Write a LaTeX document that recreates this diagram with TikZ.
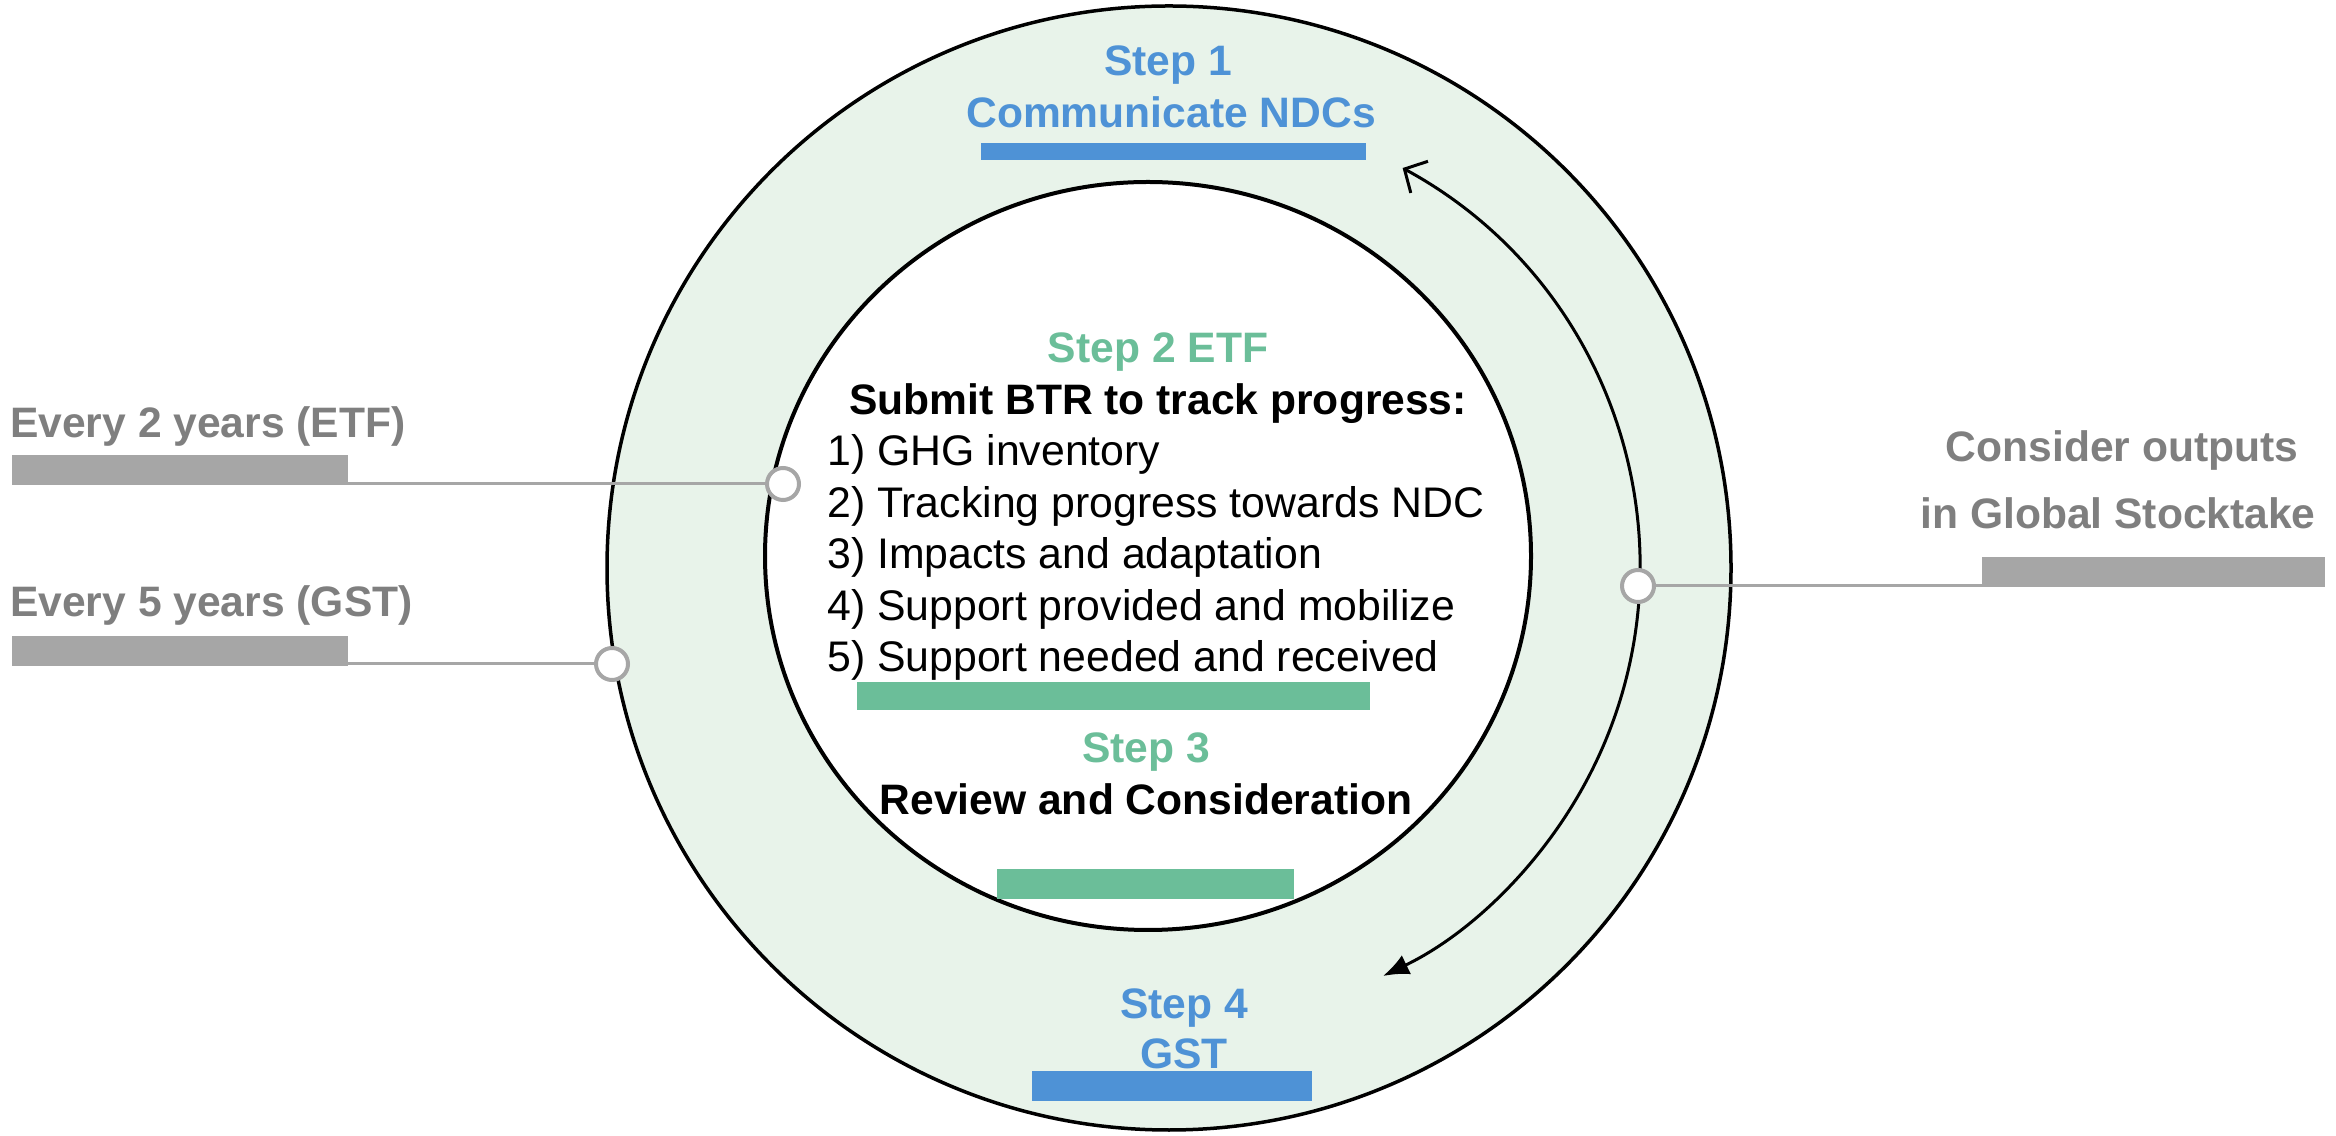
\documentclass[tikz,border=0pt]{standalone}
\usepackage{fontspec}
\setmainfont{Liberation Sans}
\usetikzlibrary{arrows.meta}
\definecolor{ringfill}{RGB}{232,243,234}
\definecolor{stepblue}{RGB}{78,146,214}
\definecolor{stepgreen}{RGB}{107,190,153}
\definecolor{barGray}{RGB}{166,166,166}
\definecolor{txtGray}{RGB}{127,127,127}
\tikzset{
  lbl/.style={inner sep=0pt, anchor=base, font=\fontsize{42.6}{50}\selectfont\bfseries},
  item/.style={inner sep=0pt, anchor=base west, font=\fontsize{42.8}{50}\selectfont},
  marker/.style={circle, draw=barGray, line width=4pt, fill=white, minimum size=32pt, inner sep=0pt},
  link/.style={draw=barGray, line width=3pt}
}
\begin{document}
\begin{tikzpicture}[x=1pt,y=1pt]
\useasboundingbox (0,0) rectangle (2336,1135);
% rings
\draw[line width=3.5pt, fill=ringfill] (1169,567) circle[radius=562];
\draw[line width=4pt, fill=white] (1148,579) ellipse[x radius=383, y radius=374];
% cycle arrow
\coordinate (arcc) at (1186,568);
\coordinate (arcstart) at ([shift={(arcc)}]61.5:454);
\draw[line width=3pt, {Straight Barb[length=17pt,width=36pt,line width=3pt]}-{Latex[length=26pt,width=21pt]}]
  (arcstart) arc[start angle=61.5, end angle=-64.3, radius=454];
% bars
\fill[stepblue]  (981,975) rectangle (1366,992);
\fill[stepgreen] (857,425) rectangle (1370,453);
\fill[stepgreen] (997,236) rectangle (1294,266);
\fill[stepblue]  (1032,34) rectangle (1312,64);
\fill[barGray] (12,650) rectangle (348,680);
\fill[barGray] (12,469) rectangle (348,499);
\fill[barGray] (1982,548) rectangle (2325,578);
\coordinate (g2e) at (348,651);
\coordinate (g5e) at (348,471);
\coordinate (grw) at (1982,549);
% markers
\node[marker] (m2) at (783,651) {};
\node[marker] (m5) at (612,471) {};
\node[marker] (mr) at (1638,549) {};
\draw[link] (m2.west) -- (g2e);
\draw[link] (m5.west) -- (g5e);
\draw[link] (mr.east) -- (grw);
% texts
\node[lbl, text=stepblue] (s1) at (1168,1059) {Step 1};
\node[lbl, text=stepblue] (s1b) at (1171,1007) {Communicate NDCs};
\node[lbl, text=stepgreen] (s2) at (1158,772) {Step 2 ETF};
\node[lbl] (s2b) at (1158,720) {Submit BTR to track progress:};
\node[item] (i1) at (827,669) {1) GHG inventory};
\node[item] (i2) at (827,617.5) {2) Tracking progress towards NDC};
\node[item] (i3) at (827,566) {3) Impacts and adaptation};
\node[item] (i4) at (827,514.5) {4) Support provided and mobilize};
\node[item] (i5) at (827,463) {5) Support needed and received};
\node[lbl, text=stepgreen] (s3) at (1146,372) {Step 3};
\node[lbl] (s3b) at (1146,320) {Review and Consideration};
\node[lbl, text=stepblue] (s4) at (1184,117) {Step 4};
\node[lbl, text=stepblue] (s4b) at (1184,67) {GST};
\node[lbl, anchor=base west, text=txtGray] (e2) at (10,697) {Every 2 years (ETF)};
\node[lbl, anchor=base west, text=txtGray] (e5) at (10,518) {Every 5 years (GST)};
\node[lbl, text=txtGray] (c1) at (2122,673) {Consider outputs};
\node[lbl, text=txtGray] (c2) at (2118,606) {in Global Stocktake};
\end{tikzpicture}
\end{document}
